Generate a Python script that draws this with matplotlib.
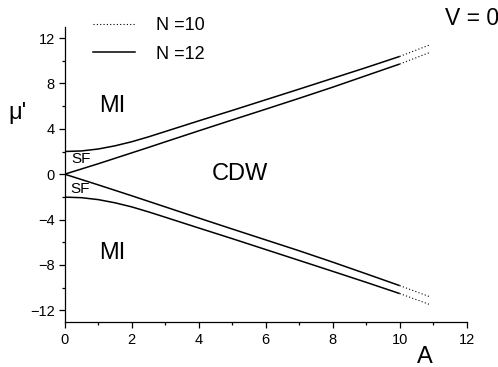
import matplotlib
matplotlib.use("Agg")
import matplotlib.pyplot as plt
from matplotlib.lines import Line2D

plt.rcParams['font.family'] = ['Liberation Sans', 'DejaVu Sans']

# Data (N = 12, solid)
A = [0, 0.5, 1, 1.5, 2, 2.5, 3, 4, 5, 6, 7, 8, 9, 10]
mi_upper = [2.0, 2.05, 2.22, 2.5, 2.86, 3.29, 3.76, 4.7, 5.62, 6.56, 7.5, 8.45, 9.4, 10.38]
cdw_upper = [0, 0.46, 0.92, 1.4, 1.88, 2.36, 2.85, 3.82, 4.78, 5.73, 6.69, 7.67, 8.69, 9.71]
cdw_lower = [0, -0.47, -0.94, -1.42, -1.9, -2.39, -2.88, -3.86, -4.83, -5.79, -6.75, -7.75, -8.78, -9.82]
mi_lower = [-2.02, -2.07, -2.24, -2.52, -2.88, -3.32, -3.79, -4.74, -5.68, -6.64, -7.6, -8.56, -9.53, -10.52]

# N = 10 continuation (dotted)
A10 = [10, 10.9]
mi_upper10 = [10.38, 11.4]
cdw_upper10 = [9.71, 10.73]
cdw_lower10 = [-9.82, -10.8]
mi_lower10 = [-10.52, -11.49]

W, H = 498, 367
fig = plt.figure(figsize=(W / 100, H / 100), dpi=100)
ax = fig.add_axes([64.7 / W, 1 - 321.7 / H, (466.7 - 64.7) / W, (321.7 - 26.7) / H])

lw = 1.1
for y in (mi_upper, cdw_upper, cdw_lower, mi_lower):
    ax.plot(A, y, color='black', lw=lw, solid_capstyle='butt')
for y in (mi_upper10, cdw_upper10, cdw_lower10, mi_lower10):
    ax.plot(A10, y, color='black', lw=0.8, linestyle=(0, (1, 2)))

ax.set_xlim(0, 12)
ax.set_ylim(-13, 13)
ax.set_xticks([0, 2, 4, 6, 8, 10, 12])
ax.set_xticks([1, 3, 5, 7, 9, 11], minor=True)
ax.set_yticks([-12, -8, -4, 0, 4, 8, 12])
ax.set_yticks([-10, -6, -2, 2, 6, 10], minor=True)
for s in ('top', 'right'):
    ax.spines[s].set_visible(False)
for s in ('left', 'bottom'):
    ax.spines[s].set_linewidth(0.9)
ax.tick_params(which='major', direction='out', length=4, width=0.9, labelsize=10.5)
ax.tick_params(axis='x', which='major', pad=4)
ax.tick_params(axis='y', which='major', pad=3)
ax.tick_params(which='minor', direction='out', length=2.5, width=0.9)

ax.text(1.43, 6.0, 'MI', fontsize=17, ha='center', va='center')
ax.text(1.43, -6.95, 'MI', fontsize=17, ha='center', va='center')
ax.text(5.24, 0.0, 'CDW', fontsize=17, ha='center', va='center')
ax.text(0.49, 1.3, 'SF', fontsize=11, ha='center', va='center')
ax.text(0.45, -1.28, 'SF', fontsize=11, ha='center', va='center')

fig.text(17 / W, 1 - 113 / H, "\u03bc'", fontsize=17, ha='center', va='center')
fig.text(425 / W, 1 - 363 / H, 'A', fontsize=17, ha='center', va='baseline')
fig.text(445 / W, 1 - 25 / H, 'V = 0', fontsize=16.5, ha='left', va='baseline')

handles = [Line2D([], [], color='black', lw=0.8, linestyle=(0, (1, 2))),
           Line2D([], [], color='black', lw=lw)]
leg = ax.legend(handles, ['N =10', 'N =12'], frameon=False, fontsize=13,
                loc='upper left', bbox_to_anchor=(93 / W, 1 - 17 / H),
                bbox_transform=fig.transFigure, handlelength=2.33,
                handletextpad=1.15, labelspacing=0.65, borderpad=0,
                borderaxespad=0)

fig.savefig('out.png', dpi=100)
